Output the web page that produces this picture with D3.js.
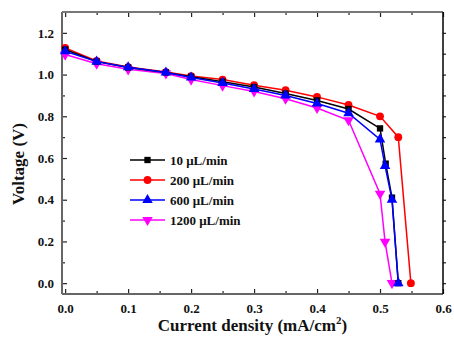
<!DOCTYPE html>
<html>
<head>
<meta charset="utf-8">
<script src="https://cdn.jsdelivr.net/npm/d3@7"></script>
<style>
  body { margin: 0; background: #fff; }
</style>
</head>
<body>
<svg id="chart" width="454" height="338" style="font-family:'Liberation Serif';font-weight:bold"></svg>
<script>
// data
var seriesNames = ["10 \u03bcL/min", "200 \u03bcL/min", "600 \u03bcL/min", "1200 \u03bcL/min"];
var seriesColors = ["#000000", "#ff0000", "#0000ff", "#ff00ff"];
var seriesSymbols = ["square", "circle", "triangle", "triangleDown"];

var xBase = [0, 0.05, 0.1, 0.16, 0.2, 0.25, 0.3, 0.35, 0.4, 0.45];

var x10 = xBase.concat([0.5, 0.509, 0.519, 0.529]);
var v10 = [1.12, 1.062, 1.034, 1.01, 0.99, 0.966, 0.94, 0.909, 0.876, 0.835, 0.742, 0.573, 0.41, 0.0];

var x200 = xBase.concat([0.5, 0.529, 0.549]);
var v200 = [1.128, 1.065, 1.036, 1.012, 0.993, 0.976, 0.949, 0.925, 0.893, 0.854, 0.80, 0.70, 0.0];

var x600 = xBase.concat([0.5, 0.508, 0.519, 0.529]);
var v600 = [1.112, 1.062, 1.035, 1.01, 0.986, 0.96, 0.931, 0.90, 0.861, 0.815, 0.689, 0.562, 0.40, 0.0];

var x1200 = xBase.concat([0.5, 0.508, 0.519]);
var v1200 = [1.096, 1.052, 1.025, 1.005, 0.976, 0.947, 0.919, 0.884, 0.84, 0.781, 0.429, 0.198, 0.0];

var seriesX = [x10, x200, x600, x1200];
var seriesV = [v10, v200, v600, v1200];

var xMajor = [0, 0.1, 0.2, 0.3, 0.4, 0.5, 0.6];
var xMinor = [0.05, 0.15, 0.25, 0.35, 0.45, 0.55];
var yMajor = [0, 0.2, 0.4, 0.6, 0.8, 1.0, 1.2];
var yMinor = [0.1, 0.3, 0.5, 0.7, 0.9, 1.1];

var FONT = "'Liberation Serif', 'Times New Roman', serif";

var margin = {top: 12, right: 11, bottom: 44, left: 62};
var width = 454 - margin.left - margin.right;
var height = 338 - margin.top - margin.bottom;

var svg = d3.select("#chart");
var g = svg.append("g")
    .attr("transform", "translate(" + margin.left + "," + margin.top + ")");

var xScale = d3.scaleLinear().domain([-0.005, 0.6]).range([0, width]);
var yScale = d3.scaleLinear().domain([-0.052, 1.3]).range([height, 0]);

var fmt = d3.format(".1f");

// bottom axis
g.append("g")
    .attr("transform", "translate(0," + height + ")")
    .call(d3.axisBottom(xScale).tickValues(xMajor).tickSizeInner(-5).tickSizeOuter(0).tickPadding(10).tickFormat(fmt))
    .call(function (a) { a.select(".domain").remove(); });
g.append("g")
    .attr("transform", "translate(0," + height + ")")
    .call(d3.axisBottom(xScale).tickValues(xMinor).tickSizeInner(-3).tickSizeOuter(0).tickFormat(""))
    .call(function (a) { a.select(".domain").remove(); });

// top axis
g.append("g")
    .call(d3.axisTop(xScale).tickValues(xMajor).tickSizeInner(-5).tickSizeOuter(0).tickFormat(""))
    .call(function (a) { a.select(".domain").remove(); });
g.append("g")
    .call(d3.axisTop(xScale).tickValues(xMinor).tickSizeInner(-3).tickSizeOuter(0).tickFormat(""))
    .call(function (a) { a.select(".domain").remove(); });

// left axis
g.append("g")
    .call(d3.axisLeft(yScale).tickValues(yMajor).tickSizeInner(-5).tickSizeOuter(0).tickPadding(8).tickFormat(fmt))
    .call(function (a) { a.select(".domain").remove(); });
g.append("g")
    .call(d3.axisLeft(yScale).tickValues(yMinor).tickSizeInner(-3).tickSizeOuter(0).tickFormat(""))
    .call(function (a) { a.select(".domain").remove(); });

// right axis (small outward ticks)
g.append("g")
    .attr("transform", "translate(" + width + ",0)")
    .call(d3.axisRight(yScale).tickValues(yMajor.concat(yMinor)).tickSizeInner(3).tickSizeOuter(0).tickFormat(""))
    .call(function (a) { a.select(".domain").remove(); });

g.selectAll("g").attr("font-family", null);
g.selectAll(".tick line").attr("stroke", "#222").attr("stroke-width", 1.2);
g.selectAll(".tick text")
    .attr("font-size", 13)
    .attr("fill", "#111")
    .style("font-family", FONT)
    .style("font-weight", "bold");

// frame
g.append("line").attr("x1", 0).attr("x2", 0).attr("y1", 0).attr("y2", height)
    .attr("stroke", "#666").attr("stroke-width", 2);
g.append("line").attr("x1", 0).attr("x2", width).attr("y1", height).attr("y2", height)
    .attr("stroke", "#666").attr("stroke-width", 2);
g.append("line").attr("x1", 0).attr("x2", width).attr("y1", 0).attr("y2", 0)
    .attr("stroke", "#777").attr("stroke-width", 2);
g.append("line").attr("x1", width).attr("x2", width).attr("y1", 0).attr("y2", height)
    .attr("stroke", "#000").attr("stroke-width", 1.5);

// symbols
var symbolTypes = {
    square: d3.symbolSquare,
    circle: d3.symbolCircle,
    triangle: d3.symbolTriangle,
    triangleDown: d3.symbolTriangle
};
function symbolPath(name) {
    var size = name === "square" ? 40 : 48;
    return d3.symbol().type(symbolTypes[name]).size(size)();
}

var line = d3.line()
    .x(function (d) { return xScale(d[0]); })
    .y(function (d) { return yScale(d[1]); });

// draw order: red and magenta under black and blue
var drawOrder = [1, 3, 0, 2];
drawOrder.forEach(function (s) {
    var pts = seriesX[s].map(function (x, i) { return [x, seriesV[s][i]]; });
    var sg = g.append("g").attr("class", "series");
    sg.append("path")
        .datum(pts)
        .attr("fill", "none")
        .attr("stroke", seriesColors[s])
        .attr("stroke-width", 1.5)
        .attr("d", line);
    sg.selectAll(".pt")
        .data(pts)
        .enter().append("path")
        .attr("class", "pt")
        .attr("d", symbolPath(seriesSymbols[s]))
        .attr("fill", seriesColors[s])
        .attr("transform", function (d) {
            var t = "translate(" + xScale(d[0]) + "," + yScale(d[1]) + ")";
            return seriesSymbols[s] === "triangleDown" ? t + " rotate(180)" : t;
        });
});

// legend
var legend = g.selectAll(".legend")
    .data(seriesNames)
    .enter().append("g")
    .attr("class", "legend")
    .attr("transform", function (d, i) { return "translate(" + (130 - margin.left) + "," + (160 - margin.top + i * 20) + ")"; });

legend.append("line")
    .attr("x1", 0).attr("x2", 35)
    .attr("stroke", function (d, i) { return seriesColors[i]; })
    .attr("stroke-width", 1.5);
legend.append("path")
    .attr("d", function (d, i) { return symbolPath(seriesSymbols[i]); })
    .attr("fill", function (d, i) { return seriesColors[i]; })
    .attr("transform", function (d, i) { return "translate(17.5,0)" + (seriesSymbols[i] === "triangleDown" ? " rotate(180)" : ""); });
legend.append("text")
    .attr("x", 40)
    .attr("dy", "0.35em")
    .attr("font-size", 13)
    .attr("fill", "#111")
    .style("font-family", FONT)
    .style("font-weight", "bold")
    .text(function (d) { return d; });

// axis titles
var xTitle = svg.append("text")
    .attr("x", margin.left + width / 2 + 0)
    .attr("y", 331)
    .attr("text-anchor", "middle")
    .attr("font-size", 17)
    .attr("fill", "#111")
    .style("font-family", FONT)
    .style("font-weight", "bold");
xTitle.append("tspan").text("Current density (mA/cm");
xTitle.append("tspan").attr("dy", -7).attr("font-size", 11).text("2");
xTitle.append("tspan").attr("dy", 7).text(")");

svg.append("text")
    .attr("transform", "translate(24,164) rotate(-90)")
    .attr("text-anchor", "middle")
    .attr("font-size", 17)
    .attr("fill", "#111")
    .style("font-family", FONT)
    .style("font-weight", "bold")
    .text("Voltage (V)");
</script>
</body>
</html>
